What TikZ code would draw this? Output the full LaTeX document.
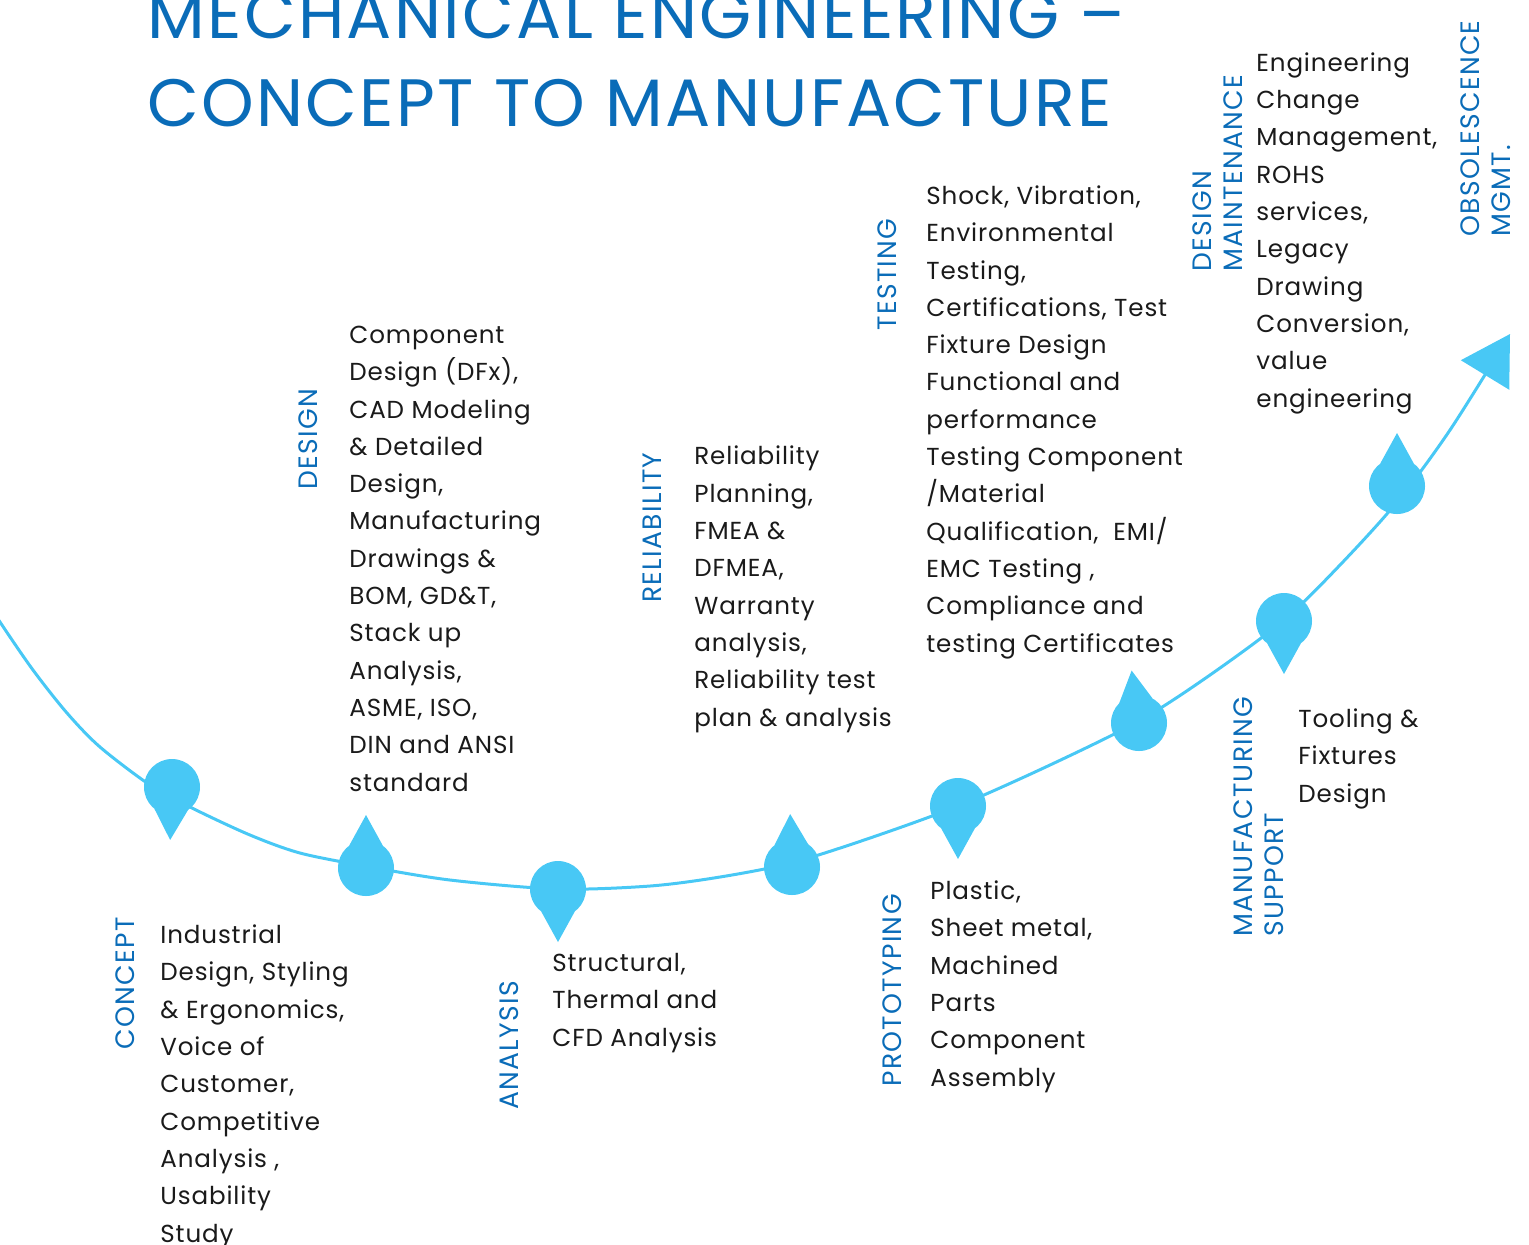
\documentclass[tikz,border=0pt]{standalone}
\usepackage{fontspec}
\setmainfont{Poppins}
\usepackage{xcolor}
\usetikzlibrary{calc,arrows.meta}
\definecolor{lblue}{RGB}{72,200,245}
\definecolor{dblue}{RGB}{10,108,184}
\definecolor{ink}{RGB}{26,26,26}
\newfontfamily\ttlfont[LetterSpace=3.5]{Poppins}
\newfontfamily\labfont[LetterSpace=5]{Poppins}
\newfontfamily\bodyfont[LetterSpace=3.5]{Poppins}
\tikzset{
	ttl/.style={font=\ttlfont\fontsize{33.5}{44}\selectfont, text=dblue, anchor=base west, align=left, inner sep=0pt},
	lab/.style={font=\labfont\fontsize{13.3}{15.5}\selectfont, text=dblue, rotate=90, anchor=base west, align=left, inner sep=0pt},
	body/.style={font=\bodyfont\fontsize{12.3}{18.65}\selectfont, text=ink, anchor=base west, align=left, inner sep=0pt},
	dot/.style={circle, fill=lblue, minimum size=28pt, inner sep=0pt},
	curve/.style={draw=lblue, line width=1.5pt, -{Triangle[length=24pt,width=28pt]}},
}
% marker: circle node plus a tip, #3 = direction of the tip
\newcommand{\dropmark}[3]{%
	\node[dot] (#1) at (#2) {};
	\fill[lblue] ($(#1)+(#3:53)$) -- ($(#1)+(#3+37:28)$) -- ($(#1)+(#3-37:28)$) -- cycle;
}

\begin{document}
\begin{tikzpicture}[x=0.5pt, y=-0.5pt]
	\useasboundingbox (0,0) rectangle (1529,1244);
	
	% ------------------- Title (anchored at last line) -------------------
	\node[ttl] (title) at (147,126) {MECHANICAL ENGINEERING –\\CONCEPT TO MANUFACTURE};
	
	% ------------------- Process curve -------------------
	\draw[curve] plot[smooth, tension=0.5] coordinates {
		(-33,571) (0,622) (33,670) (67,713) (100,747) (150,785) (192,808)
		(250,835) (300,853) (365,866) (450,880) (558,889) (650,886) (720,877)
		(791,863) (870,838) (958,806) (1050,765) (1139,721) (1210,675)
		(1284,620) (1340,565) (1397,502) (1450,430) (1510,334)};
	
	% ------------------- Markers -------------------
	\dropmark{mConcept}{172,787}{92}
	\dropmark{mDesign}{366,868}{270}
	\dropmark{mAnalysis}{558,889}{90}
	\dropmark{mReliab}{792,867}{268}
	\dropmark{mProto}{958,806}{90}
	\dropmark{mTest}{1139,723}{262}
	\dropmark{mMfg}{1284,621}{90}
	\dropmark{mMaint}{1397,486}{270}
	
	% ------------------- Stage labels (base = last line) -------------------
	\node[lab] (lConcept) at (134,1050) {CONCEPT};
	\node[lab] (lDesign) at (317,490) {DESIGN};
	\node[lab] (lAnalysis) at (518,1110) {ANALYSIS};
	\node[lab] (lReliab) at (661,603) {RELIABILITY};
	\node[lab] (lProto) at (901,1087) {PROTOTYPING};
	\node[lab] (lTest) at (896,331) {TESTING};
	\node[lab] (lMfg) at (1283,937) {MANUFACTURING\\SUPPORT};
	\node[lab] (lMaint) at (1242,272) {DESIGN\\MAINTENANCE};
	\node[lab] (lObs) at (1510,237) {OBSOLESCENCE\\MGMT.};
	
	% ------------------- Stage texts (base = last line) -------------------
	\node[body] (tConcept) at (160,1242) {Industrial\\Design, Styling\\\& Ergonomics,\\Voice of\\Customer,\\Competitive\\Analysis ,\\Usability\\Study};
	\node[body] (tDesign) at (349,791) {Component\\Design (DFx),\\CAD Modeling\\\& Detailed\\Design,\\Manufacturing\\Drawings \&\\BOM, GD\&T,\\Stack up\\Analysis,\\ASME, ISO,\\DIN and ANSI\\standard};
	\node[body] (tAnalysis) at (552,1046) {Structural,\\Thermal and\\CFD Analysis};
	\node[body] (tReliab) at (694,726) {Reliability\\Planning,\\FMEA \&\\DFMEA,\\Warranty\\analysis,\\Reliability test\\plan \& analysis};
	\node[body] (tProto) at (930,1086) {Plastic,\\Sheet metal,\\Machined\\Parts\\Component\\Assembly};
	\node[body] (tTest) at (926,652) {Shock, Vibration,\\Environmental\\Testing,\\Certifications, Test\\Fixture Design\\Functional and\\performance\\Testing Component\\/Material\\Qualification,~ EMI/\\EMC Testing ,\\Compliance and\\testing Certificates};
	\node[body] (tMfg) at (1298,802) {Tooling \&\\Fixtures\\Design};
	\node[body] (tMaint) at (1256,407) {Engineering\\Change\\Management,\\ROHS\\services,\\Legacy\\Drawing\\Conversion,\\value\\engineering};
	
\end{tikzpicture}
\end{document}
